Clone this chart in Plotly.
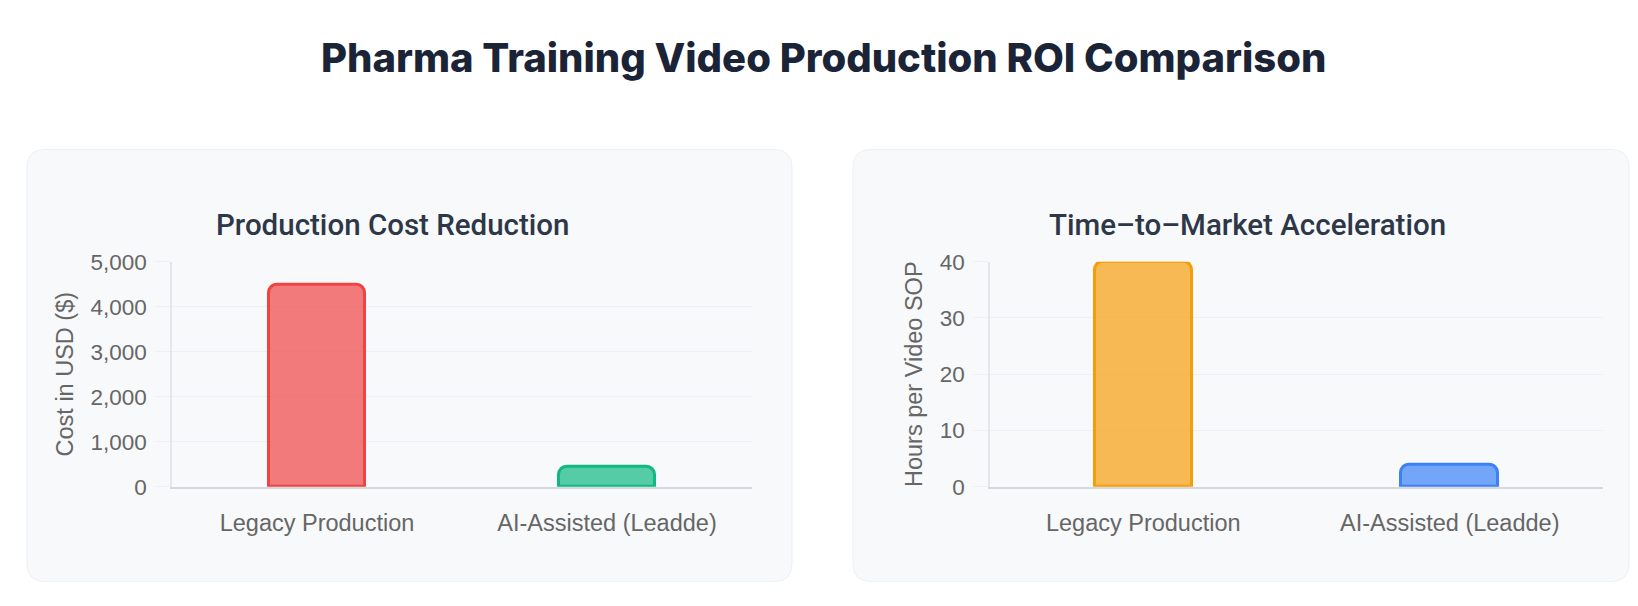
import plotly.graph_objects as go

# ---- data ----
categories = ["Legacy Production", "AI-Assisted (Leadde)"]
cost_usd = [4500, 450]
hours_per_sop = [40, 4]
cost_fill = ["rgba(239,68,68,0.7)", "rgba(16,185,129,0.7)"]
cost_line = ["#ef4444", "#10b981"]
time_fill = ["rgba(245,158,11,0.7)", "rgba(59,130,246,0.7)"]
time_line = ["#f59e0b", "#3b82f6"]
cost_ticks = [0, 1000, 2000, 3000, 4000, 5000]
hour_ticks = [0, 10, 20, 30, 40]

# page body has an 8px default margin on every side; size the figure so the page fits the window
OFF = 8
W, H = 1638 - 2 * OFF, 606 - 2 * OFF
# vertical calibration of the captured page (measured from a test render)
VS, VB = 1.0375, -10.4


def px(x):
    return (x - OFF) / W


def py(y):
    page = VS * y + VB
    return 1 - (page - OFF) / H


def rounded_rect(x0, y0, x1, y1, r):
    rx, ry = r / W, VS * r / H
    X0, X1 = px(x0), px(x1)
    Y0, Y1 = py(y0), py(y1)  # Y0 top, Y1 bottom
    return (f"M {X0+rx},{Y0} L {X1-rx},{Y0} Q {X1},{Y0} {X1},{Y0-ry} "
            f"L {X1},{Y1+ry} Q {X1},{Y1} {X1-rx},{Y1} "
            f"L {X0+rx},{Y1} Q {X0},{Y1} {X0},{Y1+ry} "
            f"L {X0},{Y0-ry} Q {X0},{Y0} {X0+rx},{Y0} Z")


fig = go.Figure()
fig.add_trace(go.Bar(
    x=categories, y=cost_usd, xaxis="x", yaxis="y", width=0.33,
    marker=dict(color=cost_fill, line=dict(color=cost_line, width=3), cornerradius=9),
    showlegend=False, hoverinfo="x+y"))
fig.add_trace(go.Bar(
    x=categories, y=hours_per_sop, xaxis="x2", yaxis="y2", width=0.315,
    marker=dict(color=time_fill, line=dict(color=time_line, width=3), cornerradius=9),
    showlegend=False, hoverinfo="x+y"))

tick_font = dict(family="Liberation Sans, Arial, sans-serif", size=22.5, color="#666666")
cat_font = dict(family="Liberation Sans, Arial, sans-serif", size=23.5, color="#666666")
grid_c = "#edf1f6"

y_bottom, y_top = 487.5, 261
common_y = dict(domain=[py(y_bottom), py(y_top)], showgrid=True, gridcolor=grid_c, gridwidth=1,
                ticks="outside", ticklen=15, tickcolor=grid_c, tickfont=tick_font,
                showline=True, linecolor="#e3e6ea", linewidth=1.5, zeroline=False,
                ticklabelstandoff=4)
common_x = dict(showgrid=False, ticks="", tickfont=cat_font, showline=True,
                linecolor="#d6d8db", linewidth=2, ticklabelstandoff=14, zeroline=False)

sub_font = dict(family="Roboto, sans-serif", size=29.5, color="#2d3748", weight=500)

fig.update_layout(
    width=W, height=H,
    margin=dict(l=0, r=0, t=0, b=0),
    paper_bgcolor="white", plot_bgcolor="rgba(0,0,0,0)",
    xaxis=dict(domain=[px(172), px(752)], anchor="y", **common_x),
    yaxis=dict(anchor="x", range=[0, 5000], tickvals=cost_ticks,
               tickformat=",d",
               title=dict(text="Cost in USD ($)", font=cat_font, standoff=10),
               **common_y),
    xaxis2=dict(domain=[px(990), px(1603)], anchor="y2", **common_x),
    yaxis2=dict(anchor="x2", range=[0, 40], tickvals=hour_ticks,
                title=dict(text="Hours per Video SOP", font=cat_font, standoff=10),
                **common_y),
    shapes=[
        dict(type="path", xref="paper", yref="paper", layer="below",
             path=rounded_rect(27, 148, 792, 583, 18),
             fillcolor="#f8f9fa", line=dict(color="#edf0f4", width=1)),
        dict(type="path", xref="paper", yref="paper", layer="below",
             path=rounded_rect(853, 148, 1629, 583, 18),
             fillcolor="#f8f9fa", line=dict(color="#edf0f4", width=1)),
    ],
    annotations=[
        dict(text="Pharma Training Video Production ROI Comparison",
             x=px(823.5), y=py(55), xref="paper", yref="paper", xanchor="center", yanchor="middle",
             showarrow=False,
             font=dict(family="Inter, sans-serif", size=40, color="#1a2436", weight=800)),
        dict(text="Production Cost Reduction",
             x=px(392.5), y=py(224.5), xref="paper", yref="paper", xanchor="center", yanchor="middle",
             showarrow=False, font=sub_font),
        dict(text="Time\u2013to\u2013Market Acceleration",
             x=px(1247.5), y=py(224.5), xref="paper", yref="paper", xanchor="center", yanchor="middle",
             showarrow=False, font=sub_font),
    ],
    bargap=0,
)

fig.write_html("out.html")
